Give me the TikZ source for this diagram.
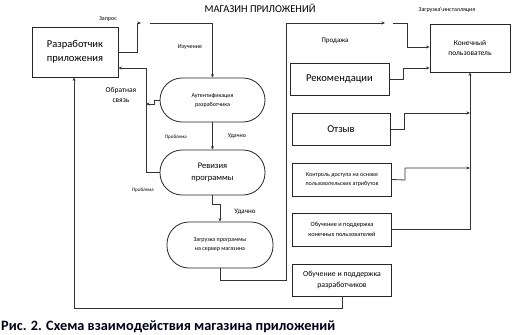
\documentclass[tikz,border=0pt]{standalone}
\usepackage{fontspec}
\setmainfont{Carlito}
\usetikzlibrary{arrows.meta}
\begin{document}
\begin{tikzpicture}[x=1pt,y=-1pt,
  box/.style={draw=black!85,line width=0.8pt,align=center,inner sep=1pt},
  stad/.style={draw=black!85,line width=0.8pt,align=center,inner sep=1pt,rounded corners=22pt},
  conn/.style={draw=black!80,line width=0.8pt},
  arr/.style={conn,-{Stealth[length=3.5pt,width=3pt]}},
  lbl/.style={align=center,inner sep=0pt}]
\useasboundingbox (0,0) rectangle (512,335);
% boxes
\node[box,minimum width=86pt,minimum height=50pt,font=\fontsize{10.5}{13.5}\selectfont] (dev) at (75,52) {Разработчик\\приложения};
\node[stad,minimum width=105pt,minimum height=44pt,font=\fontsize{6}{9}\selectfont] (auth) at (212.5,100) {Аутентификация\\разработчика};
\node[stad,minimum width=105pt,minimum height=45pt,font=\fontsize{8.5}{11.5}\selectfont] (rev) at (212.5,172.5) {Ревизия\\программы};
\node[stad,minimum width=106pt,minimum height=46pt,font=\fontsize{6}{9}\selectfont] (upl) at (220,245) {Загрузка программы\\на сервер магазина};
\node[box,minimum width=80pt,minimum height=48pt,font=\fontsize{7.5}{10.5}\selectfont] (end) at (470,48) {Конечный\\пользователь};
\node[box,minimum width=99pt,minimum height=32pt,font=\fontsize{10.5}{12}\selectfont] (rec) at (339.5,79) {Рекомендации};
\node[box,minimum width=98pt,minimum height=32pt,font=\fontsize{10.5}{12}\selectfont] (otz) at (341,129) {Отзыв};
\node[box,minimum width=99pt,minimum height=33pt,font=\fontsize{6}{9}\selectfont] (ctrl) at (342,179.5) {Контроль доступа на основе\\пользовательских атрибутов};
\node[box,minimum width=99pt,minimum height=33pt,font=\fontsize{6.3}{9.5}\selectfont] (tend) at (342,229.5) {Обучение и поддержка\\конечных пользователей};
\node[box,minimum width=99pt,minimum height=32pt,font=\fontsize{7.8}{11}\selectfont] (tdev) at (342,280) {Обучение и поддержка\\разработчиков};
% labels
\node[lbl,font=\fontsize{10.5}{12}\selectfont] (title) at (260,8) {МАГАЗИН ПРИЛОЖЕНИЙ};
\node[lbl,font=\fontsize{6}{7}\selectfont] (lzap) at (108,19) {Запрос};
\node[lbl,font=\fontsize{6}{7}\selectfont] (lizu) at (190,47) {Изучение};
\node[lbl,font=\fontsize{7.5}{9.5}\selectfont] (lobr) at (121,95) {Обратная\\связь};
\node[lbl,font=\fontsize{5}{6}\selectfont] (lpr1) at (176,137) {Проблема};
\node[lbl,font=\fontsize{6}{7}\selectfont] (lud1) at (237,136) {Удачно};
\node[lbl,font=\fontsize{5}{6}\selectfont] (lpr2) at (143,190) {Проблема};
\node[lbl,font=\fontsize{7}{8}\selectfont] (lud2) at (245,212) {Удачно};
\node[lbl,font=\fontsize{7}{8}\selectfont] (lpro) at (335,41) {Продажа};
\node[lbl,font=\fontsize{6}{7}\selectfont] (lzag) at (447,10) {Загрузка\textbackslash инсталляция};
\node[lbl,anchor=base west,font=\bfseries\fontsize{14.3}{16}\selectfont,text=black!90!blue] (cap) at (1,330) {Рис. 2. Схема взаимодействия магазина приложений};
% coordinates
\coordinate (a1) at (137,52);
\coordinate (a2) at (137,23);
\coordinate (a3) at (141,23);
\coordinate (b1) at (150,23);
\coordinate (b2) at (212.5,23);
\coordinate (c1) at (212.5,204);
\coordinate (c2) at (220,204);
\coordinate (d1) at (220,280);
\coordinate (d2) at (286,280);
\coordinate (d3) at (286,23);
\coordinate (d4) at (385,23);
\coordinate (e1) at (393,23);
\coordinate (e2) at (407,23);
\coordinate (e3) at (407,47);
\coordinate (r1) at (403,79);
\coordinate (r2) at (403,68);
\coordinate (o1) at (404,129);
\coordinate (o2) at (404,113);
\coordinate (o3) at (470,113);
\coordinate (k1) at (405,180);
\coordinate (k2) at (405,168);
\coordinate (k3) at (470,168);
\coordinate (t1) at (470,229.5);
\coordinate (u1) at (342,308);
\coordinate (u2) at (74,308);
\coordinate (f1) at (146,172.5);
\coordinate (f2) at (146,68);
\coordinate (g1) at (154,100);
\coordinate (g2) at (154,104);
\coordinate (g3) at (146,104);
% connectors
\draw[arr] (dev.east |- a1) -- (a1) -- (a2) -- (a3);
\draw[arr] (b1) -- (b2) -- (auth.north);
\draw[arr] (auth.south) -- (rev.north);
\draw[arr] (rev.south) -- (c1) -- (c2) -- (c2 |- upl.north);
\draw[arr] (upl.south) -- (d1) -- (d2) -- (d3) -- (d4);
\draw[arr] (e1) -- (e2) -- (e3) -- (end.west |- e3);
\draw[arr] (rec.east) -- (r1) -- (r2) -- (end.west |- r2);
\draw[arr] (otz.east) -- (o1) -- (o2) -- (o3);
\draw[arr] (ctrl.east) -- (k1) -- (k2) -- (k3);
\draw[arr] (tend.east) -- (t1) -- (end.south);
\draw[arr] (tdev.south) -- (u1) -- (u2) -- (dev.south -| u2);
\draw[arr] (rev.west) -- (f1) -- (f2) -- (dev.east |- f2);
\draw[arr] (auth.west) -- (g1) -- (g2) -- (g3);
\end{tikzpicture}
\end{document}
